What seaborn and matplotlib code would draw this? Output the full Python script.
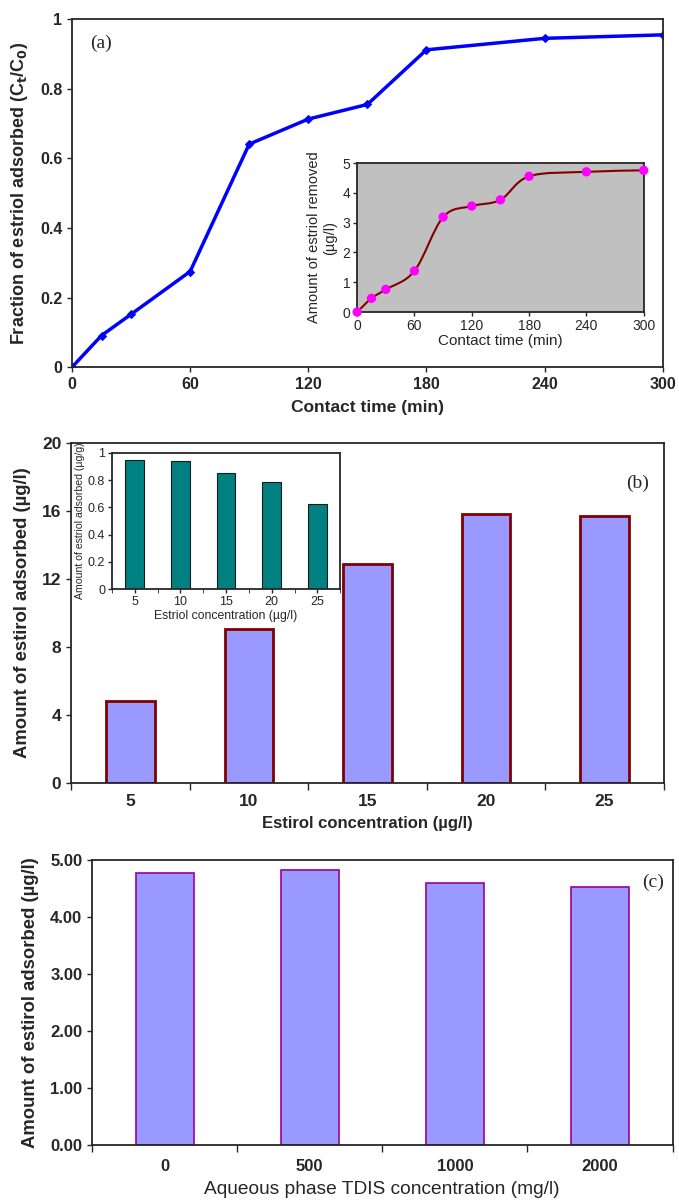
import numpy as np
import pandas as pd
import seaborn as sns
import matplotlib.pyplot as plt
from matplotlib.path import Path
from matplotlib.patches import PathPatch

# ==== data ====
time_min = [0, 15, 30, 60, 90, 120, 150, 180, 240, 300]
fraction_adsorbed = [0, 0.091, 0.152, 0.275, 0.641, 0.713, 0.755, 0.912, 0.945, 0.955]
amount_removed = [0, 0.46, 0.76, 1.38, 3.19, 3.56, 3.77, 4.56, 4.71, 4.76]

estirol_conc = ["5", "10", "15", "20", "25"]
estirol_adsorbed = [4.8, 9.06, 12.88, 15.85, 15.72]
estriol_adsorbed_ug_g = [0.946, 0.939, 0.854, 0.79, 0.626]

tdis_conc = ["0", "500", "1000", "2000"]
tdis_adsorbed = [4.77, 4.82, 4.60, 4.53]

sns.set_style("ticks")
plt.rcParams["font.family"] = ["Liberation Sans", "DejaVu Sans"]
plt.rcParams["axes.linewidth"] = 1.3
plt.rcParams["xtick.major.width"] = 1.0
plt.rcParams["ytick.major.width"] = 1.0

fig = plt.figure(figsize=(6.79, 12), dpi=100)


def bold_ticks(ax, size):
    for lab in ax.get_xticklabels() + ax.get_yticklabels():
        lab.set_fontweight("bold")
        lab.set_fontsize(size)


def smooth_path(ax, xs, ys, color, lw):
    # Excel style smoothed line: Catmull-Rom converted to cubic bezier segments
    pts = np.column_stack([xs, ys]).astype(float)
    verts = [pts[0]]
    codes = [Path.MOVETO]
    n = len(pts)
    for i in range(n - 1):
        p0 = pts[i - 1] if i > 0 else pts[i]
        p1, p2 = pts[i], pts[i + 1]
        p3 = pts[i + 2] if i + 2 < n else pts[i + 1]
        c1 = p1 + (p2 - p0) / 6.0
        c2 = p2 - (p3 - p1) / 6.0
        verts += [c1, c2, p2]
        codes += [Path.CURVE4] * 3
    ax.add_patch(PathPatch(Path(verts, codes), facecolor="none", edgecolor=color, lw=lw, zorder=2))


# ==== (a) fraction adsorbed vs time ====
df_a = pd.DataFrame({"time": time_min, "frac": fraction_adsorbed, "amount": amount_removed})
ax_a = fig.add_axes([0.106, 0.694, 0.870, 0.290])
sns.lineplot(data=df_a, x="time", y="frac", ax=ax_a, color="#0000ff", lw=2.5,
             marker="D", markersize=4, markeredgecolor="#0000ff")
ax_a.set_xlim(0, 300)
ax_a.set_ylim(0, 1)
ax_a.set_xticks([0, 60, 120, 180, 240, 300])
ax_a.set_yticks([0, 0.2, 0.4, 0.6, 0.8, 1])
ax_a.set_yticklabels(["0", "0.2", "0.4", "0.6", "0.8", "1"])
bold_ticks(ax_a, 11.5)
ax_a.set_xlabel("Contact time (min)", fontsize=12.5, fontweight="bold", labelpad=6)
ax_a.set_ylabel("Fraction of estriol adsorbed (C$_\\mathbf{t}$/C$_\\mathbf{0}$)",
                fontsize=13, fontweight="bold", labelpad=7)
ax_a.text(0.03, 0.93, "(a)", transform=ax_a.transAxes, fontsize=14,
          family="Liberation Serif", va="center")

# inset of (a)
ax_ai = fig.add_axes([0.526, 0.740, 0.422, 0.124])
ax_ai.set_facecolor("#c0c0c0")
smooth_path(ax_ai, time_min, amount_removed, "#800000", 1.5)
sns.scatterplot(data=df_a, x="time", y="amount", ax=ax_ai, color="#ff00ff", s=45,
                edgecolor="none", zorder=3, clip_on=False)
ax_ai.set_xlim(0, 300)
ax_ai.set_ylim(0, 5)
ax_ai.set_xticks([0, 60, 120, 180, 240, 300])
ax_ai.set_yticks([0, 1, 2, 3, 4, 5])
ax_ai.tick_params(labelsize=10, length=3, pad=2)
ax_ai.set_xlabel("Contact time (min)", fontsize=11, labelpad=1)
ax_ai.set_ylabel("Amount of estriol removed\n(µg/l)", fontsize=10.5, labelpad=4)

# ==== (b) estirol concentration bars ====
df_b = pd.DataFrame({"conc": estirol_conc, "ads": estirol_adsorbed, "ads_g": estriol_adsorbed_ug_g})
ax_b = fig.add_axes([0.1046, 0.3475, 0.873, 0.2833])
sns.barplot(data=df_b, x="conc", y="ads", ax=ax_b, color="#9999ff", saturation=1,
            width=0.41, edgecolor="#800000", linewidth=2)
ax_b.set_xlim(-0.5, 4.5)
ax_b.set_ylim(0, 20)
ax_b.set_yticks([0, 4, 8, 12, 16, 20])
ax_b.set_xticks(np.arange(-0.5, 5, 1), minor=True)
ax_b.tick_params(axis="x", which="major", length=0, pad=8)
ax_b.tick_params(axis="x", which="minor", length=5, width=1)
bold_ticks(ax_b, 12.5)
ax_b.set_xlabel("Estirol concentration (µg/l)", fontsize=12, fontweight="bold", labelpad=5)
ax_b.set_ylabel("Amount of estirol adsorbed (µg/l)", fontsize=13.3, fontweight="bold", labelpad=8)
ax_b.text(0.975, 0.88, "(b)", transform=ax_b.transAxes, fontsize=14,
          family="Liberation Serif", ha="right", va="center")

# inset of (b)
ax_bi = fig.add_axes([0.165, 0.509, 0.336, 0.1135])
ax_bi.set_facecolor("white")
sns.barplot(data=df_b, x="conc", y="ads_g", ax=ax_bi, color="#008080", saturation=1,
            width=0.41, edgecolor="#1a1a1a", linewidth=0.8)
ax_bi.set_xlim(-0.5, 4.5)
ax_bi.set_ylim(0, 1)
ax_bi.set_yticks([0, 0.2, 0.4, 0.6, 0.8, 1])
ax_bi.set_yticklabels(["0", "0.2", "0.4", "0.6", "0.8", "1"])
ax_bi.set_xticks(np.arange(-0.5, 5, 1), minor=True)
ax_bi.tick_params(axis="x", which="major", length=0, pad=4)
ax_bi.tick_params(axis="x", which="minor", length=3)
ax_bi.tick_params(labelsize=9, length=3, pad=2)
ax_bi.set_xlabel("Estriol concentration (µg/l)", fontsize=8.8, labelpad=1)
ax_bi.set_ylabel("Amount of estriol adsorbed (µg/g)", fontsize=7.6, labelpad=2)

# ==== (c) TDIS concentration bars ====
df_c = pd.DataFrame({"tdis": tdis_conc, "ads": tdis_adsorbed})
ax_c = fig.add_axes([0.1355, 0.0458, 0.855, 0.2375])
sns.barplot(data=df_c, x="tdis", y="ads", ax=ax_c, color="#9999ff", saturation=1,
            width=0.40, edgecolor="#990099", linewidth=1.2)
ax_c.set_xlim(-0.5, 3.5)
ax_c.set_ylim(0, 5)
ax_c.set_yticks([0, 1, 2, 3, 4, 5])
ax_c.set_yticklabels([f"{v:.2f}" for v in [0, 1, 2, 3, 4, 5]])
ax_c.set_xticks(np.arange(-0.5, 4, 1), minor=True)
ax_c.tick_params(axis="x", which="major", length=0, pad=10)
ax_c.tick_params(axis="x", which="minor", length=5, width=1)
bold_ticks(ax_c, 12)
ax_c.set_xlabel("Aqueous phase TDIS concentration (mg/l)", fontsize=13.8, labelpad=5)
ax_c.set_ylabel("Amount of estirol adsorbed (µg/l)", fontsize=13.3, fontweight="bold", labelpad=8)
ax_c.text(0.985, 0.92, "(c)", transform=ax_c.transAxes, fontsize=14,
          family="Liberation Serif", ha="right", va="center")

fig.savefig("out.png", dpi=100)
